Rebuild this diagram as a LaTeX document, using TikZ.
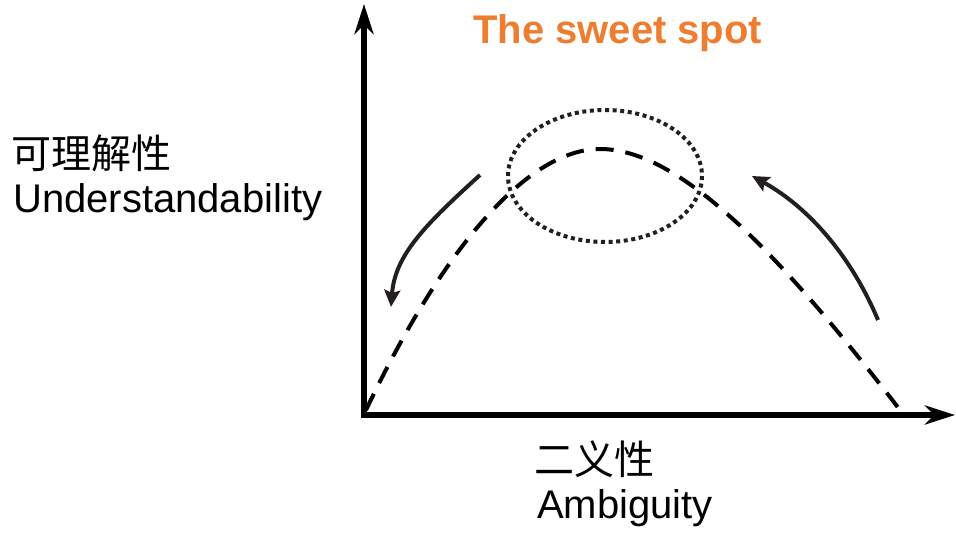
\documentclass[tikz,border=0pt]{standalone}
\usepackage{fontspec}
\setmainfont{Liberation Sans}
\newfontfamily\cjk{Noto Sans CJK SC}
\usetikzlibrary{arrows.meta}
\definecolor{sweet}{HTML}{ED7D31}
\definecolor{ink}{HTML}{231F20}
\tikzset{
  axis/.style={line width=5.5pt,-{Stealth[length=30pt,width=19pt,inset=9pt]}},
  curve/.style={line width=4pt,dash pattern=on 18pt off 12pt},
  spot/.style={line width=4pt,ink,dash pattern=on 4pt off 3.6pt},
  move/.style={line width=4pt,ink,-{Stealth[length=17pt,width=16pt,inset=3pt]}},
  lbl/.style={inner sep=0pt,font=\fontsize{40}{48}\selectfont},
  cjklbl/.style={inner sep=0pt,font=\cjk\fontsize{40}{48}\selectfont}
}
\begin{document}
\begin{tikzpicture}[x=1pt,y=-1pt]
\useasboundingbox (0,0) rectangle (956,538);
\coordinate (Ytip) at (364,4);
\coordinate (Xtip) at (955,415);
\coordinate (Oy) at (364,418);
\coordinate (Ox) at (361,415);
\draw[axis] (Oy) -- (Ytip);
\draw[axis] (Ox) -- (Xtip);
% dashed hump
\coordinate (c0) at (366,410);
\coordinate (peak) at (600,149);
\coordinate (c1) at (900,410);
\draw[curve] (c0) .. controls (446,242) and (530,149) .. (peak)
  .. controls (680,149) and (780,254) .. (c1);
% sweet spot ellipse
\coordinate (spotC) at (605,176);
\draw[spot] (spotC) ellipse [x radius=97, y radius=66];
% movement arrows
\coordinate (la) at (480,175);
\coordinate (lb) at (391,307);
\draw[move] (la) .. controls (425,225) and (395,255) .. (lb);
\coordinate (ra) at (878,320);
\coordinate (rb) at (752,176);
\draw[move] (ra) .. controls (852,258) and (810,208) .. (rb);
% texts
\node[inner sep=0pt,anchor=base west,text=sweet,font=\bfseries\fontsize{40}{48}\selectfont] (title) at (473,43) {The sweet spot};
\node[cjklbl,anchor=west] (yzh) at (11,153) {可理解性};
\node[lbl,anchor=base west] (yen) at (13,212) {Understandability};
\node[cjklbl,anchor=west] (xzh) at (534,459) {二义性};
\node[lbl,anchor=base west] (xen) at (537,518) {Ambiguity};
\end{tikzpicture}
\end{document}
